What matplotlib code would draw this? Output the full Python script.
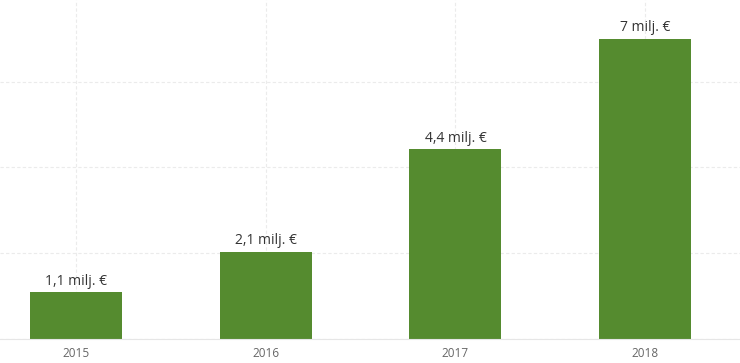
import matplotlib.pyplot as plt

# Data
years = ["2015", "2016", "2017", "2018"]
values = [1.09, 2.03, 4.43, 7.0]
labels = ["1,1 milj. €", "2,1 milj. €", "4,4 milj. €", "7 milj. €"]

plt.rcParams['font.family'] = ['Open Sans', 'DejaVu Sans']

fig = plt.figure(figsize=(7.4, 3.63), dpi=100)
ax = fig.add_axes([0, 24.3 / 363, 1, 338.7 / 363])

x = range(len(years))
bars = ax.bar(x, values, width=0.485, color="#558b2f", zorder=3)

for b, lab in zip(bars, labels):
    ax.annotate(lab, (b.get_x() + b.get_width() / 2, b.get_height()),
                xytext=(0, 2.5), textcoords="offset points",
                ha="center", va="bottom", fontsize=10, color="#333333", zorder=4)

ax.set_xlim(-0.4, 3.5)
ax.set_ylim(0, 7.91)
ax.set_yticks([0, 2, 4, 6])
ax.set_yticklabels([])
ax.set_xticks(list(x))
ax.set_xticklabels(years, fontsize=8.5, color="#666666")

ax.grid(True, color="#ebebeb", linestyle=(0, (3, 2)), linewidth=0.8, zorder=0)
ax.tick_params(axis="y", length=0)
ax.tick_params(axis="x", length=0, pad=6)

for s in ["top", "right", "left"]:
    ax.spines[s].set_visible(False)
ax.spines["bottom"].set_color("#e6e6e6")
ax.spines["bottom"].set_zorder(5)

fig.savefig("out.png", dpi=100)
